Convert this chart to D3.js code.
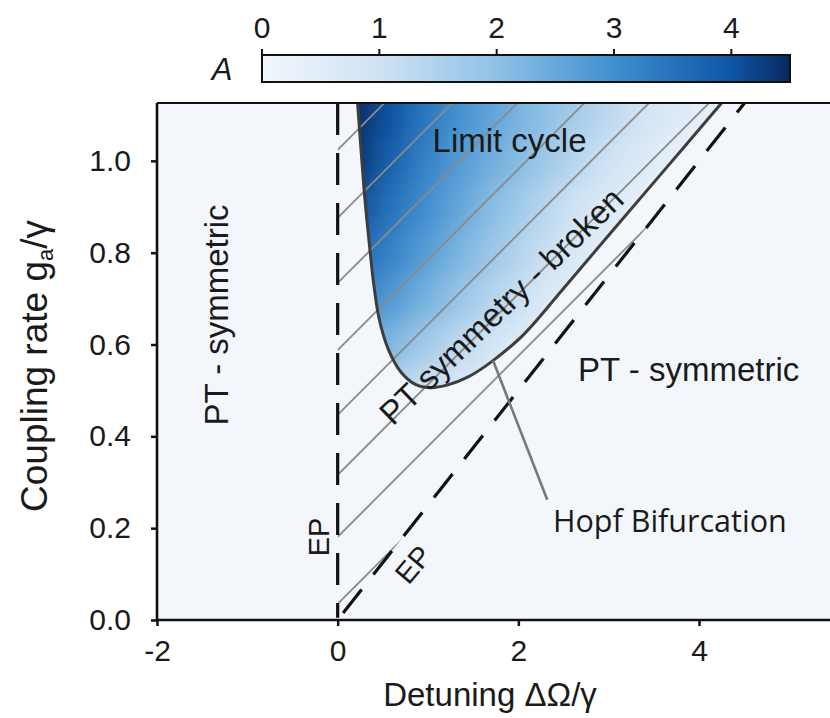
<!DOCTYPE html>
<html>
<head>
<meta charset="utf-8">
<script src="https://cdn.jsdelivr.net/npm/d3@7"></script>
<style>
  html, body { margin: 0; padding: 0; background: #ffffff; }
  svg text { font-family: "Liberation Sans", Arial, sans-serif; fill: #1a1a1a; }
</style>
</head>
<body>
<svg id="sketchbook" width="830" height="718"></svg>
<script>
// 軸の目盛り
const xTicks = [-2, 0, 2, 4];
const yTicks = [0.0, 0.2, 0.4, 0.6, 0.8, 1.0];
const colorTicks = [0, 1, 2, 3, 4];

// Hopf 分岐の境界線 (絵から読み取り)
const hopfDelta = [0.22, 0.26, 0.30, 0.35, 0.40, 0.46, 0.56, 0.70, 0.86, 1.02, 1.22, 1.45, 1.72, 2.05, 2.50, 3.00, 3.60, 4.25];
const hopfG     = [1.126, 1.02, 0.92, 0.82, 0.73, 0.655, 0.59, 0.54, 0.513, 0.506, 0.512, 0.530, 0.565, 0.620, 0.722, 0.838, 0.976, 1.126];

// EP 線の傾き (g = slope * Δ)
const epSlope = 0.25;

// ハッチング線 (Δ=0 での g 切片と傾き)
const hatchIntercepts = [0.035, 0.181, 0.316, 0.447, 0.588, 0.734, 0.876, 1.024];
const hatchSlope = 0.197;

// 振幅 A のグリッド (列: Δ, 行: g)
const gridDelta = [0.2, 0.6, 1.0, 1.4, 1.8, 2.2, 2.6, 3.0, 3.4, 3.8, 4.2];
const gridG     = [1.1, 1.0, 0.9, 0.8, 0.7, 0.6, 0.5];
const gridA = [
    [4.5, 4.0, 3.4, 2.9, 2.5, 2.1, 1.7, 1.3, 0.9, 0.6, 0.3],
    [4.4, 3.8, 3.2, 2.7, 2.3, 1.9, 1.4, 1.0, 0.6, 0.3, 0.2],
    [4.1, 3.5, 3.0, 2.5, 2.0, 1.5, 1.0, 0.6, 0.3, 0.2, 0.1],
    [3.7, 3.2, 2.7, 2.2, 1.7, 1.2, 0.7, 0.4, 0.2, 0.1, 0.1],
    [3.2, 2.8, 2.3, 1.8, 1.3, 0.8, 0.4, 0.2, 0.1, 0.1, 0.1],
    [2.6, 2.2, 1.7, 1.2, 0.8, 0.4, 0.2, 0.1, 0.1, 0.1, 0.1],
    [1.8, 1.4, 1.0, 0.7, 0.4, 0.2, 0.1, 0.1, 0.1, 0.1, 0.1]
];

/**
 * 相図を描くクラス
 */
class PhaseChart {
    constructor() {
        this.svg = d3.select('#sketchbook');
        this.x = d3.scaleLinear().domain([-2, 5.45]).range([157, 830]);
        this.y = d3.scaleLinear().domain([0, 1.126]).range([620, 103]);
        this.c = d3.scaleLinear()
            .domain([0, 1, 2, 3, 4, 4.5])
            .range(['#f2f7fc', '#cfe2f3', '#8fc1e5', '#3f8fd0', '#0f55a5', '#08295f'])
            .interpolate(d3.interpolateRgb);
        this.cb = d3.scaleLinear().domain([0, 4.5]).range([262, 790]);
        this.defs = this.svg.append('defs');
    }
    /* 背景とクリップ */
    underpainting() {
        let x = this.x, y = this.y;
        let gMax = y.domain()[1];

        this.svg.append('rect')
            .attr('x', x(-2)).attr('y', y(gMax))
            .attr('width', 830 - x(-2)).attr('height', y(0) - y(gMax))
            .attr('fill', '#f3f7fc');

        // Hopf 領域
        let pts = hopfDelta.map((d, i) => { return [x(d), y(hopfG[i])]; });
        this.hopfPath = d3.line().curve(d3.curveCatmullRom.alpha(0.5))(pts);
        this.defs.append('clipPath').attr('id', 'hopf-clip')
            .append('path').attr('d', this.hopfPath + 'Z');

        // EP 線で挟まれた楔形
        let wedge = [[0, 0], [0, gMax], [gMax / epSlope, gMax]];
        this.defs.append('clipPath').attr('id', 'wedge-clip')
            .append('polygon')
            .attr('points', wedge.map((p) => { return x(p[0]) + ',' + y(p[1]); }).join(' '));

        this.defs.append('filter').attr('id', 'soft')
            .attr('x', '-20%').attr('y', '-20%').attr('width', '140%').attr('height', '140%')
            .append('feGaussianBlur').attr('stdDeviation', 14);
        return this;
    }
    /* 振幅のヒートマップ */
    drawHeatmap() {
        let x = this.x, y = this.y, c = this.c;
        let cells = [];
        gridG.forEach((g, r) => {
            gridDelta.forEach((d, k) => {
                cells.push({ d: d, g: g, a: gridA[r][k], r: r, k: k });
            });
        });
        let pad = 40;
        let nr = gridG.length - 1, nk = gridDelta.length - 1;

        this.svg.append('g').attr('clip-path', 'url(#hopf-clip)')
            .append('g').attr('filter', 'url(#soft)')
            .selectAll('rect.cell')
            .data(cells)
            .enter()
            .append('rect')
            .attr('class', 'cell')
            .attr('x', (e) => { return x(e.d - 0.2) - (e.k === 0 ? pad : 0); })
            .attr('y', (e) => { return y(e.g + 0.05) - (e.r === 0 ? pad : 0); })
            .attr('width', (e) => { return x(e.d + 0.2) - x(e.d - 0.2) + 1 + (e.k === 0 || e.k === nk ? pad : 0); })
            .attr('height', (e) => { return y(e.g - 0.05) - y(e.g + 0.05) + 1 + (e.r === 0 || e.r === nr ? pad : 0); })
            .attr('fill', (e) => { return c(e.a); });
        return this;
    }
    /* ハッチング */
    drawHatch() {
        let x = this.x, y = this.y;
        this.svg.append('g').attr('clip-path', 'url(#wedge-clip)')
            .selectAll('line.hatch')
            .data(hatchIntercepts)
            .enter()
            .append('line')
            .attr('class', 'hatch')
            .attr('x1', x(0)).attr('y1', (b) => { return y(b); })
            .attr('x2', x(6)).attr('y2', (b) => { return y(b + hatchSlope * 6); })
            .attr('stroke', '#8a8a8a')
            .attr('stroke-width', 1.8);
        return this;
    }
    /* 境界線 */
    drawBoundaries() {
        let x = this.x, y = this.y;
        let gMax = y.domain()[1];

        this.svg.append('path')
            .attr('d', this.hopfPath)
            .attr('fill', 'none')
            .attr('stroke', '#3d3d3d')
            .attr('stroke-width', 3);

        // 上から点線を始める
        this.svg.append('line')
            .attr('x1', x(0)).attr('y1', y(gMax))
            .attr('x2', x(0)).attr('y2', y(0.005))
            .attr('stroke', '#111').attr('stroke-width', 3.2)
            .attr('stroke-dasharray', '32,18');

        this.svg.append('line')
            .attr('x1', x(0.06)).attr('y1', y(0.06 * epSlope))
            .attr('x2', x(gMax / epSlope)).attr('y2', y(gMax))
            .attr('stroke', '#111').attr('stroke-width', 3.2)
            .attr('stroke-dasharray', '30,19');

        // Hopf の引き出し線
        this.svg.append('line')
            .attr('x1', x(1.72)).attr('y1', y(0.565))
            .attr('x2', x(2.32)).attr('y2', y(0.262))
            .attr('stroke', '#777').attr('stroke-width', 2.6);
        return this;
    }
    /* 軸 */
    drawAxes() {
        let x = this.x, y = this.y;
        let gMax = y.domain()[1];

        let xa = this.svg.append('g')
            .attr('transform', 'translate(0,' + y(0) + ')')
            .call(d3.axisBottom(x).tickValues(xTicks).tickSize(6).tickPadding(14).tickFormat((v) => { return String(v); }));
        let ya = this.svg.append('g')
            .attr('transform', 'translate(' + x(-2) + ',0)')
            .call(d3.axisLeft(y).tickValues(yTicks).tickSize(6).tickPadding(20).tickFormat(d3.format('.1f')));

        [xa, ya].forEach((a) => {
            a.select('.domain').remove();
            a.selectAll('line').attr('stroke', '#111').attr('stroke-width', 2.5);
            a.selectAll('text').attr('font-size', 30).attr('fill', '#222')
                .attr('font-family', '"Liberation Sans", Arial, sans-serif');
        });

        this.svg.append('path')
            .attr('d', 'M' + x(-2) + ',' + y(gMax) + 'V' + y(0) + 'H830')
            .attr('fill', 'none').attr('stroke', '#111').attr('stroke-width', 2.6);
        this.svg.append('line')
            .attr('x1', x(-2)).attr('x2', 830)
            .attr('y1', y(gMax)).attr('y2', y(gMax))
            .attr('stroke', '#111').attr('stroke-width', 2.2);

        this.svg.append('text')
            .attr('x', 490).attr('y', 706)
            .attr('text-anchor', 'middle').attr('font-size', 33)
            .text('Detuning ΔΩ/γ');

        let yl = this.svg.append('text')
            .attr('transform', 'translate(47,366) rotate(-90)')
            .attr('text-anchor', 'middle').attr('font-size', 37);
        yl.append('tspan').text('Coupling rate g');
        yl.append('tspan').attr('font-size', 22).attr('baseline-shift', '-25%').text('a');
        yl.append('tspan').text('/γ');
        return this;
    }
    /* カラーバー */
    drawColorbar() {
        let cb = this.cb, c = this.c;
        let grad = this.defs.append('linearGradient').attr('id', 'cbar');
        d3.range(0, 4.51, 0.25).forEach((v) => {
            grad.append('stop')
                .attr('offset', (v / 4.5 * 100) + '%')
                .attr('stop-color', c(v));
        });
        this.svg.append('rect')
            .attr('x', cb(0)).attr('y', 55)
            .attr('width', cb(4.5) - cb(0)).attr('height', 27)
            .attr('fill', 'url(#cbar)')
            .attr('stroke', '#111').attr('stroke-width', 2);

        this.svg.selectAll('line.cbtick')
            .data(colorTicks).enter()
            .append('line').attr('class', 'cbtick')
            .attr('x1', (v) => { return cb(v); }).attr('x2', (v) => { return cb(v); })
            .attr('y1', 49).attr('y2', 56)
            .attr('stroke', '#111').attr('stroke-width', 2);

        this.svg.selectAll('text.cbtick')
            .data(colorTicks).enter()
            .append('text').attr('class', 'cbtick')
            .attr('x', (v) => { return cb(v); }).attr('y', 38)
            .attr('text-anchor', 'middle').attr('font-size', 30).attr('fill', '#222')
            .text((v) => { return v; });

        this.svg.append('text')
            .attr('x', 222).attr('y', 80)
            .attr('text-anchor', 'middle').attr('font-size', 31)
            .attr('font-style', 'italic')
            .text('A');
        return this;
    }
    /* 領域ラベル */
    drawLabels() {
        let x = this.x, y = this.y;
        let put = (t, px, py, rot, size, anchor, family) => {
            let el = this.svg.append('text')
                .attr('transform', 'translate(' + px + ',' + py + ') rotate(' + rot + ')')
                .attr('text-anchor', anchor || 'middle')
                .attr('font-size', size)
                .text(t);
            if (family)
                el.style('font-family', family);
            return el;
        };
        put('Limit cycle', x(1.05), y(1.02), 0, 33, 'start');
        put('PT symmetry - broken', x(1.9), y(0.666), -44, 33);
        put('PT - symmetric', 228, 315, -90, 33);
        put('PT - symmetric', 578, 381, 0, 33, 'start');
        put('EP', 329, 537, -90, 29);
        put('EP', 421, 571, -50, 29);
        put('Hopf Bifurcation', 553, 532, 0, 30.5, 'start', '"Open Sans", "Noto Sans", sans-serif');
        return this;
    }
}

new PhaseChart()
    .underpainting()
    .drawHeatmap()
    .drawHatch()
    .drawBoundaries()
    .drawAxes()
    .drawColorbar()
    .drawLabels();
</script>
</body>
</html>
